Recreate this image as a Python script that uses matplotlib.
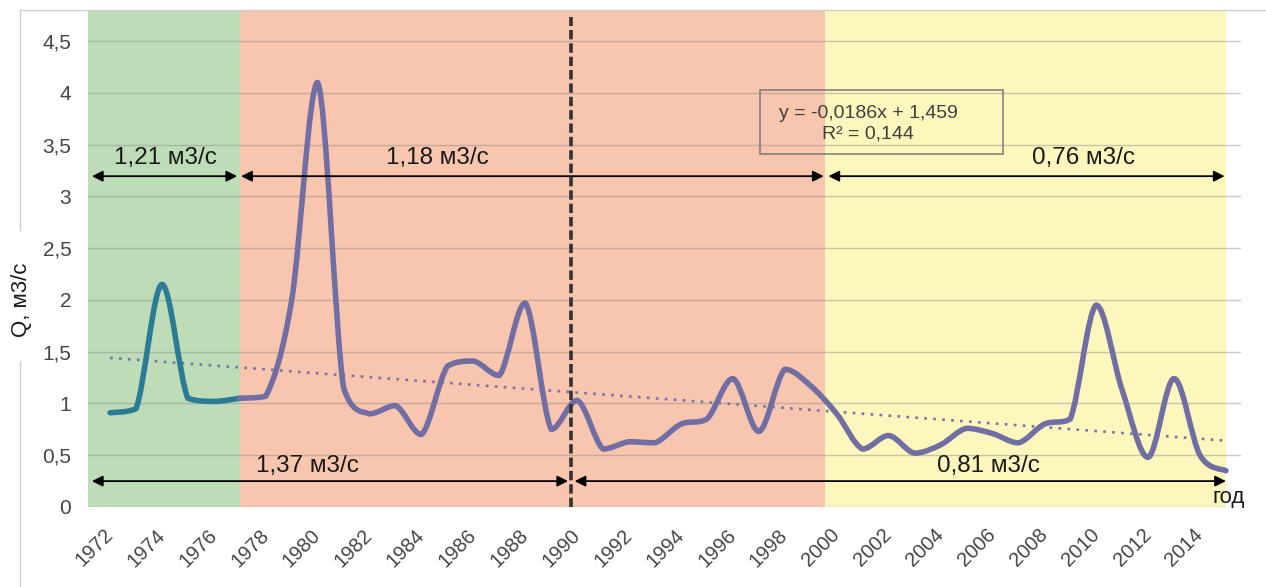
import numpy as np
import matplotlib
matplotlib.use("Agg")
import matplotlib.pyplot as plt
from matplotlib.path import Path
from matplotlib.patches import PathPatch, Rectangle
from matplotlib.lines import Line2D

# --- data (m3/s) ---
years_early = list(range(1972, 1978))
q_early = [0.91, 0.95, 2.15, 1.05, 1.02, 1.05]

years_late = list(range(1977, 2016))
q_late = [1.05, 1.07, 2.00, 4.10, 1.15, 0.90, 0.98, 0.70, 1.36, 1.41,
          1.27, 1.97, 0.75, 1.03, 0.56, 0.63, 0.62, 0.80, 0.85, 1.24,
          0.73, 1.33, 1.17, 0.90, 0.56, 0.69, 0.52, 0.60, 0.76, 0.71,
          0.62, 0.80, 0.85, 1.95, 1.13, 0.48, 1.24, 0.50, 0.35]

# linear trend as printed on the chart (x = 1..44)
trend_slope, trend_icept = -0.0186, 1.459
trend_r2 = 0.144

# colour periods and split year
period_edges = [1971.15, 1977.0, 1999.55, 2015.0]
period_colors = ["#bddcb7", "#f8c5ae", "#fdf6bd"]
split_year = 1989.78

# mean flow arrows: (start, end, label)
top_means = [(1971.3, 1976.9, "1,21 м3/с"), (1977.05, 1999.5, "1,18 м3/с"),
             (1999.68, 2014.95, "0,76 м3/с")]
top_label_x = [1974.12, 1984.6, 2009.5]
bottom_means = [(1971.3, 1989.65, "1,37 м3/с"), (1989.9, 2015.0, "0,81 м3/с")]
bottom_label_x = [1979.6, 2005.85]

ticks_y = [0, 0.5, 1, 1.5, 2, 2.5, 3, 3.5, 4, 4.5]
ticks_x = list(range(1972, 2015, 2))


def smooth_path(x, y):
    # smoothed line: cubic bezier through every point, no overshoot
    x = np.asarray(x, float)
    y = np.asarray(y, float)
    n = len(x)
    verts = [(x[0], y[0])]
    codes = [Path.MOVETO]
    for i in range(n - 1):
        a = i - 1 if i > 0 else i
        d = i + 2 if i + 2 < n else i + 1
        lo, hi = min(y[i], y[i + 1]), max(y[i], y[i + 1])
        c1y = np.clip(y[i] + (y[i + 1] - y[a]) / 6, lo, hi)
        c2y = np.clip(y[i + 1] - (y[d] - y[i]) / 6, lo, hi)
        c1 = (x[i] + (x[i + 1] - x[a]) / 6, c1y)
        c2 = (x[i + 1] - (x[d] - x[i]) / 6, c2y)
        verts += [c1, c2, (x[i + 1], y[i + 1])]
        codes += [Path.CURVE4] * 3
    return Path(verts, codes)


plt.rcParams["font.family"] = ["Liberation Sans", "DejaVu Sans"]

fig = plt.figure(figsize=(12.66, 5.87), dpi=100)
ax = fig.add_axes([88 / 1266, 80 / 587, (1241 - 88) / 1266, (507 - 10) / 587])
ax.set_xlim(1971.15, 2015.58)
ax.set_ylim(0, 4.8)

for (x0, x1), c in zip(zip(period_edges[:-1], period_edges[1:]), period_colors):
    ax.axvspan(x0, x1, color=c, lw=0, zorder=0)

ax.yaxis.grid(True, color="#8a8a8a", alpha=0.45, lw=1.0)
ax.set_yticks(ticks_y)
ax.set_yticklabels([f"{t:g}".replace(".", ",") for t in ticks_y])
ax.set_xticks(ticks_x)
ax.set_xticklabels([str(t) for t in ticks_x], rotation=45, ha="right",
                   va="center", rotation_mode="anchor")
ax.tick_params(axis="both", length=0, colors="#454545")
ax.tick_params(axis="y", pad=12, labelsize=15)
ax.tick_params(axis="x", pad=18, labelsize=14.5)
for s in ax.spines.values():
    s.set_visible(False)

# trend
tx = np.arange(1, len(years_early) - 1 + len(years_late) + 1)
tyears = 1971 + tx
ax.plot(tyears, trend_slope * tx + trend_icept, color="#7474aa",
        lw=1.9, ls=(0, (1, 2.4)), zorder=3)

# flow series
ax.add_patch(PathPatch(smooth_path(years_early, q_early), fill=False,
                       edgecolor="#2c7b95", lw=4, capstyle="round",
                       joinstyle="round", zorder=4))
ax.add_patch(PathPatch(smooth_path(years_late, q_late), fill=False,
                       edgecolor="#716ea3", lw=4, capstyle="round",
                       joinstyle="round", zorder=4))

# split line
ax.axvline(split_year, ymax=4.73 / 4.8, color="#333333", lw=2.6,
           ls=(0, (2.6, 1.1)), zorder=5)

arrow_kw = dict(arrowstyle="<|-|>", color="black", lw=1.3,
                mutation_scale=16, shrinkA=0, shrinkB=0)
for (x0, x1, lab), lx in zip(top_means, top_label_x):
    ax.annotate("", xy=(x1, 3.195), xytext=(x0, 3.195), arrowprops=arrow_kw, zorder=6)
    ax.text(lx, 3.37, lab, ha="center", va="center", fontsize=17.5, color="#1a1a1a")
for (x0, x1, lab), lx in zip(bottom_means, bottom_label_x):
    ax.annotate("", xy=(x1, 0.25), xytext=(x0, 0.25), arrowprops=arrow_kw, zorder=6)
    ax.text(lx, 0.40, lab, ha="center", va="center", fontsize=17.5, color="#1a1a1a")

ax.text(2015.12, 0.095, "год", ha="center", va="center", fontsize=16, color="#1a1a1a")

# equation box
ax.add_patch(Rectangle((1997.05, 3.41), 9.36, 0.615, fill=False,
                       edgecolor="#7a7a7a", lw=1.1, zorder=6))
ax.text(2001.21, 3.70,
        "y = -0,0186x + 1,459\nR² = " + f"{trend_r2:.3f}".replace(".", ","),
        ha="center", va="center", fontsize=14, color="#404040",
        linespacing=1.25, zorder=7)

# chart frame and axis title
frame = "#cfcfcf"
fig.add_artist(Line2D([20 / 1266, 1], [1 - 10 / 587] * 2, color=frame, lw=1))
fig.add_artist(Line2D([20 / 1266] * 2, [1 - 10 / 587, 1 - 230 / 587], color=frame, lw=1))
fig.add_artist(Line2D([20 / 1266] * 2, [1 - 362 / 587, 0], color=frame, lw=1))
fig.text(22 / 1266, 1 - 300 / 587, "Q, м3/с", rotation=90, ha="center",
         va="center", fontsize=16, color="#1a1a1a")

fig.savefig("out.png", dpi=100)
